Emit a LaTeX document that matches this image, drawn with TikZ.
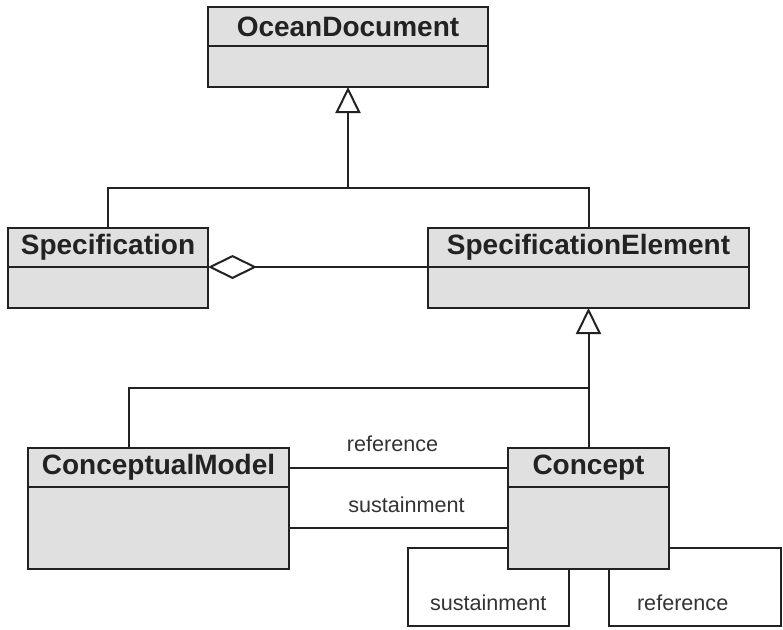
\documentclass[tikz,border=0pt]{standalone}
\usepackage{fontspec}
\setsansfont{Liberation Sans}
\usetikzlibrary{arrows.meta, positioning}
\definecolor{classfill}{HTML}{E0E0E0}
\definecolor{classline}{HTML}{222222}
\definecolor{labeltext}{HTML}{333333}

\begin{document}
\begin{tikzpicture}[font=\sffamily, x=0.5pt, y=-0.5pt, line width=1pt, color=classline]
  % Class Box Styles
  \tikzstyle{classhead} = [draw, fill=classfill, rectangle, minimum height=19.5pt,
    inner sep=0pt, outer sep=0pt, font=\sffamily\bfseries\fontsize{14}{16}\selectfont]
  \tikzstyle{classbody} = [draw, fill=classfill, rectangle, minimum height=20.5pt,
    inner sep=0pt, outer sep=0pt]
  \tikzstyle{assoclabel} = [text=labeltext, font=\sffamily\fontsize{10.8}{12}\selectfont]
  \tikzstyle{inherit} = [-{Triangle[length=13pt, width=12.5pt, fill=white]}]
  \tikzstyle{aggregate} = [{Diamond[length=24.5pt, width=12pt, fill=white]}-]

  \useasboundingbox (0,0) rectangle (783,629);

  % Top class
  \node[classhead, minimum width=140pt] (ocean) at (348,26.5) {OceanDocument};
  \node[classbody, minimum width=140pt, below=0pt of ocean] (oceanbody) {};

  % Middle classes
  \node[classhead, minimum width=100pt] (spec) at (108,247.5) {Specification};
  \node[classbody, minimum width=100pt, below=0pt of spec] (specbody) {};
  \node[classhead, minimum width=160.5pt] (specel) at (588.5,247.5) {SpecificationElement};
  \node[classbody, minimum width=160.5pt, below=0pt of specel] (specelbody) {};

  % Bottom classes
  \node[classhead, minimum width=130.5pt] (cmodel) at (158.5,467.5) {ConceptualModel};
  \node[classbody, minimum width=130.5pt, minimum height=41pt, below=0pt of cmodel] (cmodelbody) {};
  \node[classhead, minimum width=80.5pt] (concept) at (588.5,467.5) {Concept};
  \node[classbody, minimum width=80.5pt, minimum height=41pt, below=0pt of concept] (conceptbody) {};

  % Junctions
  \coordinate (topjoin) at (348,188);
  \coordinate (lowjoin) at (588.5,388);
  \coordinate (loopsw) at (408,626);
  \coordinate (loopse) at (781,626);

  % Generalizations
  \draw[inherit] (topjoin) -- (oceanbody.south);
  \draw (spec.north) |- (topjoin) -| (specel.north);
  \draw[inherit] (concept.north) -- (specelbody.south);
  \draw ([xshift=-15pt]cmodel.north) |- (lowjoin);

  % Aggregation
  \draw[aggregate] (spec.south east) -- (specel.south west);

  % Associations
  \draw (cmodel.east) -- node[assoclabel, above=4pt, xshift=-3pt] {reference} (concept.west);
  \draw (cmodelbody.east) -- node[assoclabel, above=4pt, xshift=4pt] {sustainment} (conceptbody.west);

  % Self associations on Concept
  \draw ([yshift=-10pt]conceptbody.west) -| (loopsw)
    -| node[assoclabel, above=4pt, pos=0.25] {sustainment} ([xshift=-10pt]conceptbody.south);
  \draw ([xshift=10pt]conceptbody.south)
    |- node[assoclabel, above=4pt, pos=0.715] {reference} (loopse)
    |- ([yshift=-10pt]conceptbody.east);

\end{tikzpicture}
\end{document}
